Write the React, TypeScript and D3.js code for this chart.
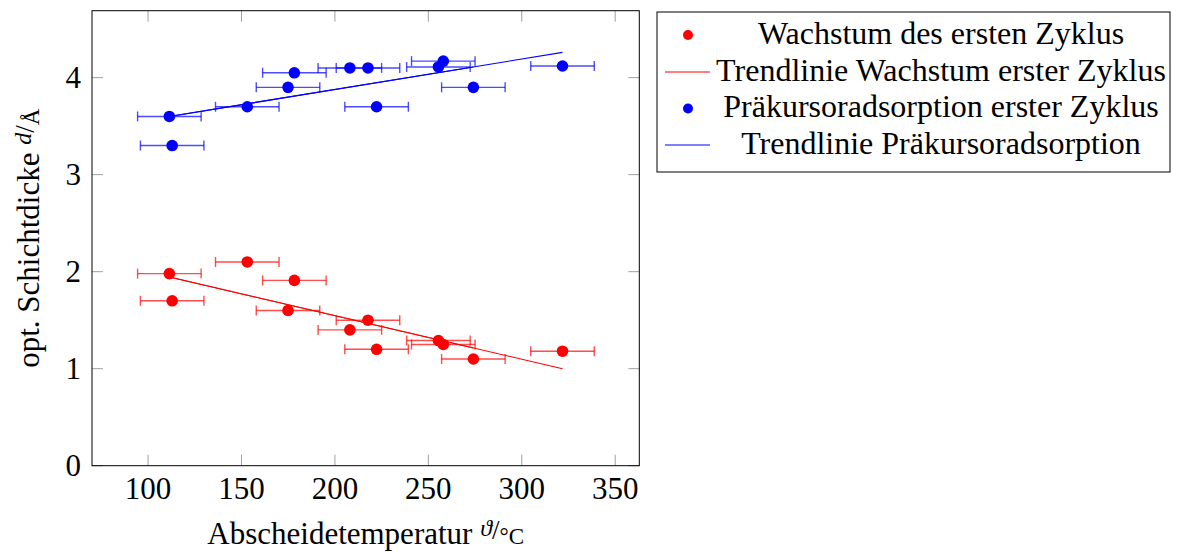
import React from "react";
import * as d3 from "d3";

const temps = [111.4, 112.9, 153.1, 174.9, 178.3, 208.0, 217.7, 222.3, 255.4, 258.0, 274.1, 321.8];
const tempErr = [17, 17, 17, 17, 17, 17, 17, 17, 17, 17, 17, 17];
const growth = [1.98, 1.7, 2.1, 1.6, 1.91, 1.4, 1.5, 1.2, 1.29, 1.25, 1.1, 1.18];
const adsorption = [3.6, 3.3, 3.7, 3.9, 4.05, 4.1, 4.1, 3.7, 4.11, 4.17, 3.9, 4.12];

const trendX = [111.4, 274.1, 321.8];
const growthTrend = [1.945, 1.214, 1.0];
const adsorptionTrend = [3.6, 4.11, 4.26];

const xTicks = [100, 150, 200, 250, 300, 350];
const yTicks = [0, 1, 2, 3, 4];

const legendLabels = [
  "Wachstum des ersten Zyklus",
  "Trendlinie Wachstum erster Zyklus",
  "Präkursoradsorption erster Zyklus",
  "Trendlinie Präkursoradsorption",
];

const W = 1177;
const H = 552;
const FONT = "'Liberation Serif', 'Times New Roman', serif";

export default function App() {
  const left = 92, right = 639.3, top = 10.7, bottom = 465.7;
  const x = d3.scaleLinear().domain([70, 362.9]).range([left, right]);
  const y = d3.scaleLinear().domain([0, 4.69]).range([bottom, top]);
  const tickLen = 11;
  const line = d3.line<[number, number]>().x((d) => x(d[0])).y((d) => y(d[1]));

  const series = [
    { vals: growth, trend: growthTrend, color: "#ff0000" },
    { vals: adsorption, trend: adsorptionTrend, color: "#0000ff" },
  ];

  const legendY = [35, 72, 108.5, 145];

  return (
    <svg width={W} height={H} style={{ position: "absolute", left: 0, top: 0 }} fontFamily={FONT}>
      <rect x={0} y={0} width={W} height={H} fill="#fff" />
      {xTicks.map((t) => (
        <g key={"xt" + t}>
          <line x1={x(t)} x2={x(t)} y1={bottom} y2={bottom - tickLen} stroke="#a0a0a0" strokeWidth={1} />
          <line x1={x(t)} x2={x(t)} y1={top} y2={top + tickLen} stroke="#a0a0a0" strokeWidth={1} />
          <text x={x(t)} y={499} textAnchor="middle" fontSize={31} fill="#000">{t}</text>
        </g>
      ))}
      {yTicks.map((t) => (
        <g key={"yt" + t}>
          <line x1={left} x2={left + tickLen} y1={y(t)} y2={y(t)} stroke="#a0a0a0" strokeWidth={1} />
          <line x1={right} x2={right - tickLen} y1={y(t)} y2={y(t)} stroke="#a0a0a0" strokeWidth={1} />
          <text x={81} y={y(t)} dy="0.33em" textAnchor="end" fontSize={31} fill="#000">{t}</text>
        </g>
      ))}
      {series.map((s, si) => (
        <g key={"s" + si}>
          {s.vals.map((v, i) => {
            const cy = y(v);
            const x0 = x(temps[i] - tempErr[i]);
            const x1 = x(temps[i] + tempErr[i]);
            return (
              <g key={i} stroke={s.color} strokeOpacity={0.7} strokeWidth={1.4}>
                <line x1={x0} x2={x1} y1={cy} y2={cy} />
                <line x1={x0} x2={x0} y1={cy - 5} y2={cy + 5} />
                <line x1={x1} x2={x1} y1={cy - 5} y2={cy + 5} />
              </g>
            );
          })}
          {s.vals.map((v, i) => (
            <circle key={"c" + i} cx={x(temps[i])} cy={y(v)} r={5.8} fill={s.color} />
          ))}
          <path
            d={line([[trendX[0], s.trend[0]], [trendX[1], s.trend[1]]]) || ""}
            fill="none"
            stroke={s.color}
            strokeWidth={1.1}
          />
          <path
            d={line([[trendX[0], s.trend[0]], [trendX[2], s.trend[2]]]) || ""}
            fill="none"
            stroke={s.color}
            strokeWidth={1.1}
          />
        </g>
      ))}
      <rect x={left} y={top} width={right - left} height={bottom - top} fill="none" stroke="#000" strokeWidth={1} />
      <text x={(left + right) / 2} y={544} textAnchor="middle" fontSize={31} fill="#000">
        Abscheidetemperatur{" "}
        <tspan fontStyle="italic" fontSize={24} dy={-8}>ϑ</tspan>
        <tspan fontSize={27} dy={3}>/</tspan>
        <tspan fontSize={23} dy={5}>°C</tspan>
      </text>
      <text
        transform={`translate(39, ${(top + bottom) / 2}) rotate(-90)`}
        textAnchor="middle"
        fontSize={31}
        fill="#000"
      >
        opt. Schichtdicke{" "}
        <tspan fontStyle="italic" fontSize={24} dy={-8}>d</tspan>
        <tspan fontSize={27} dy={3}>/</tspan>
        <tspan fontSize={23} dy={5}>Å</tspan>
      </text>
      <rect x={657} y={12} width={513} height={160} fill="#fff" stroke="#000" strokeWidth={1} />
      {legendLabels.map((lab, i) => {
        const color = i < 2 ? "#ff0000" : "#0000ff";
        const ly = legendY[i];
        return (
          <g key={"lg" + i}>
            {i % 2 === 0 ? (
              <circle cx={688} cy={ly} r={5} fill={color} />
            ) : (
              <line x1={665} x2={710} y1={ly} y2={ly} stroke={color} strokeWidth={1} />
            )}
            <text x={941} y={ly} dy="0.28em" textAnchor="middle" fontSize={32} fill="#000">{lab}</text>
          </g>
        );
      })}
    </svg>
  );
}
